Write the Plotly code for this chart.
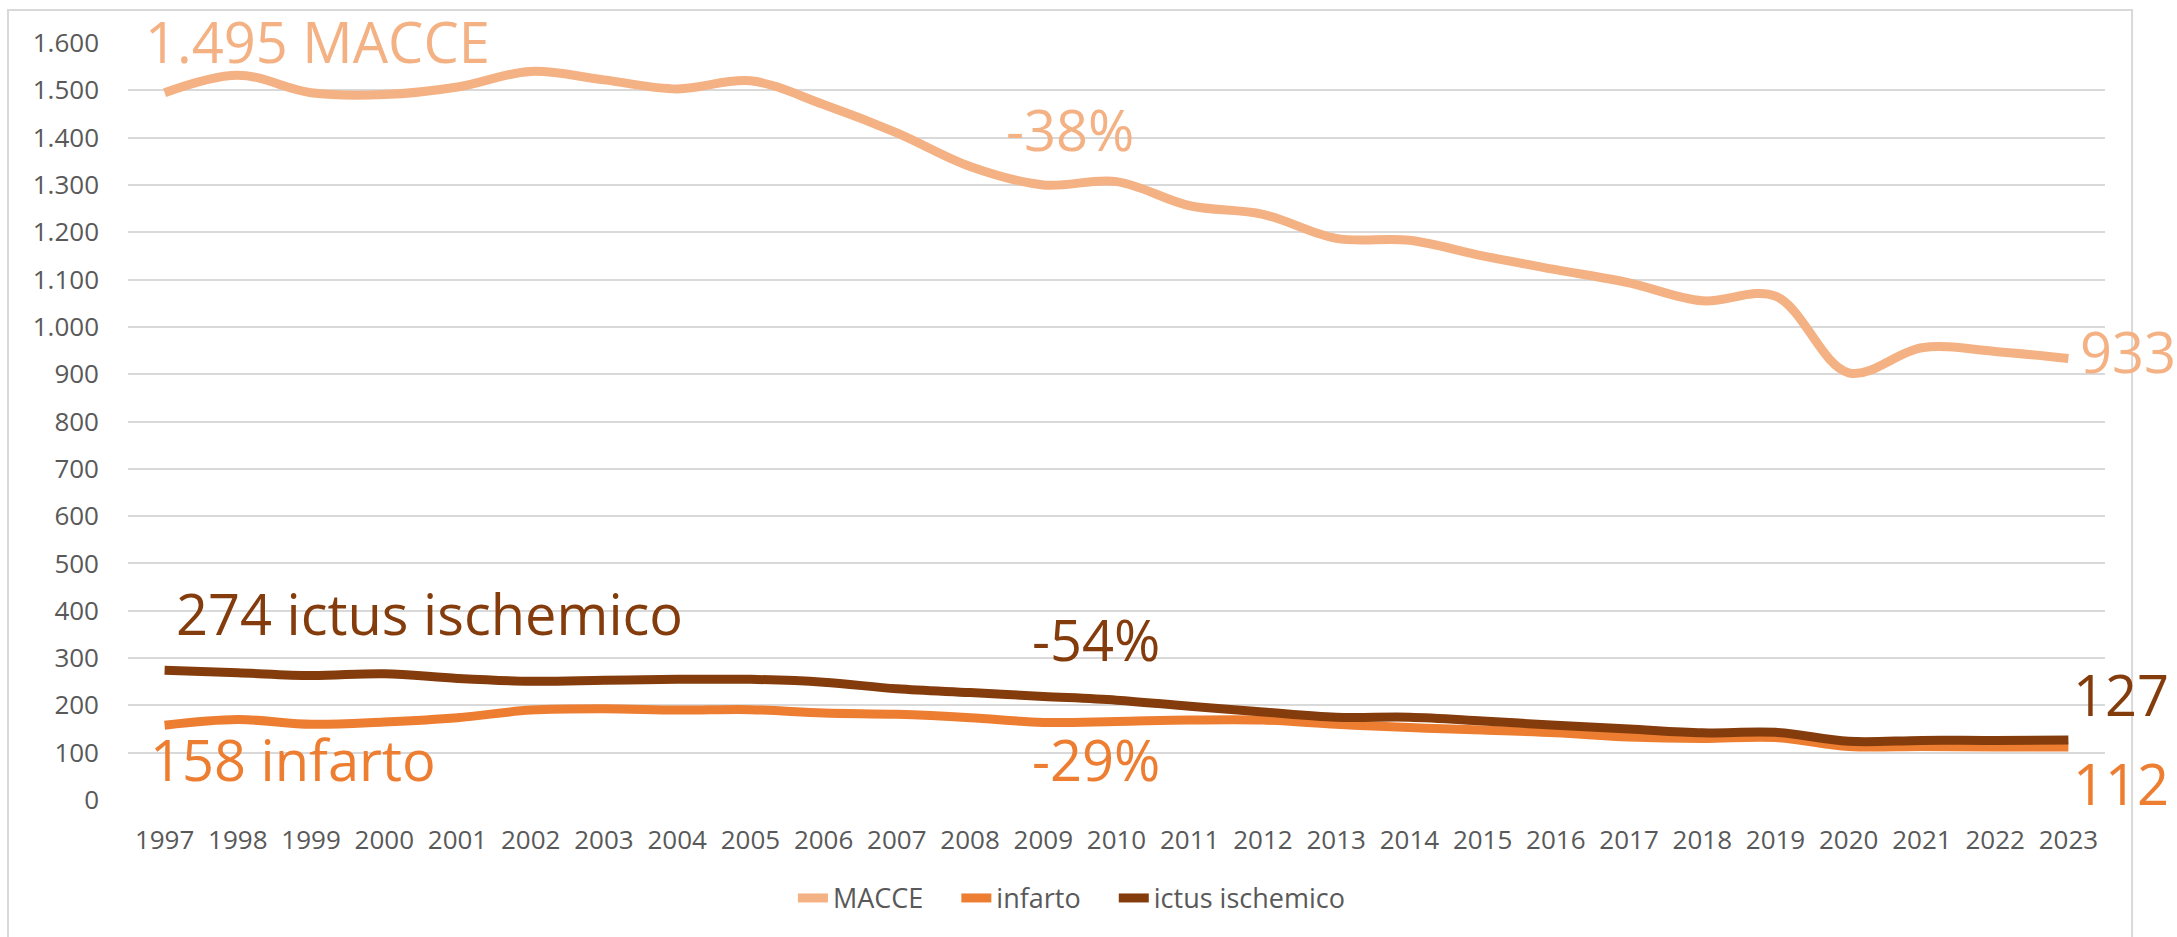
import plotly.graph_objects as go

years = list(range(1997, 2024))
macce = [1495, 1532, 1495, 1491, 1507, 1540, 1522, 1503, 1520, 1470, 1410, 1339, 1300,
         1307, 1256, 1238, 1187, 1183, 1150, 1121, 1093, 1055, 1065, 903, 956, 948, 933]
infarto = [158, 170, 160, 165, 174, 190, 193, 190, 191, 184, 181, 174, 164,
           166, 169, 169, 160, 153, 148, 142, 133, 130, 132, 113, 113, 112, 112]
ictus = [274, 269, 263, 267, 257, 251, 253, 255, 255, 249, 235, 227, 219,
         211, 198, 186, 175, 175, 167, 158, 150, 142, 143, 124, 126, 126, 127]

series_names = ["MACCE", "infarto", "ictus ischemico"]
colors = ["#F4B183", "#ED7D31", "#843C0C"]
y_ticks = list(range(0, 1700, 100))

FONT = "Open Sans"
GRAY = "#595959"
PAD = "\u00a0" * 4

fig = go.Figure()
for i, (name, vals, col) in enumerate(zip(series_names, [macce, infarto, ictus], colors)):
    fig.add_trace(go.Scatter(
        x=years, y=vals, name=name + (PAD if i < 2 else ""), mode="lines",
        line=dict(color=col, width=9, shape="spline", smoothing=1),
        cliponaxis=False,
    ))

ann_font = lambda c: dict(family=FONT, size=56, color=c)
annotations = [
    dict(x=1999.09, y=1.0554, yref="paper", yanchor="top", text="1.495 MACCE", color=colors[0], xanchor="center"),
    dict(x=2009.36, y=1419, yref="y", yanchor="middle", text="-38%", color=colors[0], xanchor="center"),
    dict(x=2000.62, y=395, yref="y", yanchor="middle", text="274 ictus ischemico", color=colors[2], xanchor="center"),
    dict(x=2009.72, y=341, yref="y", yanchor="middle", text="-54%", color=colors[2], xanchor="center"),
    dict(x=1998.76, y=86, yref="y", yanchor="middle", text="158 infarto", color=colors[1], xanchor="center"),
    dict(x=2009.72, y=86, yref="y", yanchor="middle", text="-29%", color=colors[1], xanchor="center"),
    dict(x=2023.13, y=948, yref="y", yanchor="middle", text="933", color=colors[0], xanchor="left"),
    dict(x=2023.04, y=225, yref="y", yanchor="middle", text="127", color=colors[2], xanchor="left"),
    dict(x=2023.04, y=36, yref="y", yanchor="middle", text="112", color=colors[1], xanchor="left"),
]
for a in annotations:
    fig.add_annotation(x=a["x"], y=a["y"], xref="x", yref=a["yref"], text=a["text"],
                       showarrow=False, xanchor=a["xanchor"], yanchor=a["yanchor"],
                       font=ann_font(a["color"]))

# chart-area border (Excel style)
fig.add_shape(type="path", xref="paper", yref="paper",
              path="M -0.0607,-0.2 L -0.0607,1.0436 L 1.0137,1.0436 L 1.0137,-0.2",
              line=dict(color="#D9D9D9", width=2), layer="below")

fig.update_layout(
    width=2177, height=937,
    margin=dict(l=128, r=72, t=43, b=137),
    paper_bgcolor="white", plot_bgcolor="white",
    separators=",.",
    font=dict(family=FONT, size=26, color=GRAY),
    showlegend=True,
    legend=dict(orientation="h", x=0.4772, xanchor="center", y=-0.13, yanchor="middle",
                font=dict(family=FONT, size=27, color=GRAY), itemwidth=30,
                bgcolor="rgba(0,0,0,0)"),
    xaxis=dict(range=[1996.5, 2023.5], tickmode="array", tickvals=years,
               ticktext=[str(y) for y in years], showgrid=False, zeroline=False,
               showline=False, ticks="", ticklabelstandoff=22,
               tickfont=dict(family=FONT, size=26, color=GRAY)),
    yaxis=dict(range=[0, 1600], tickmode="array", tickvals=y_ticks, tickformat=",d",
               showgrid=True, gridcolor="#D9D9D9", gridwidth=2, zeroline=False,
               showline=False, ticks="", ticklabelstandoff=28,
               tickfont=dict(family=FONT, size=26, color=GRAY)),
)

fig.write_html("out.html")
